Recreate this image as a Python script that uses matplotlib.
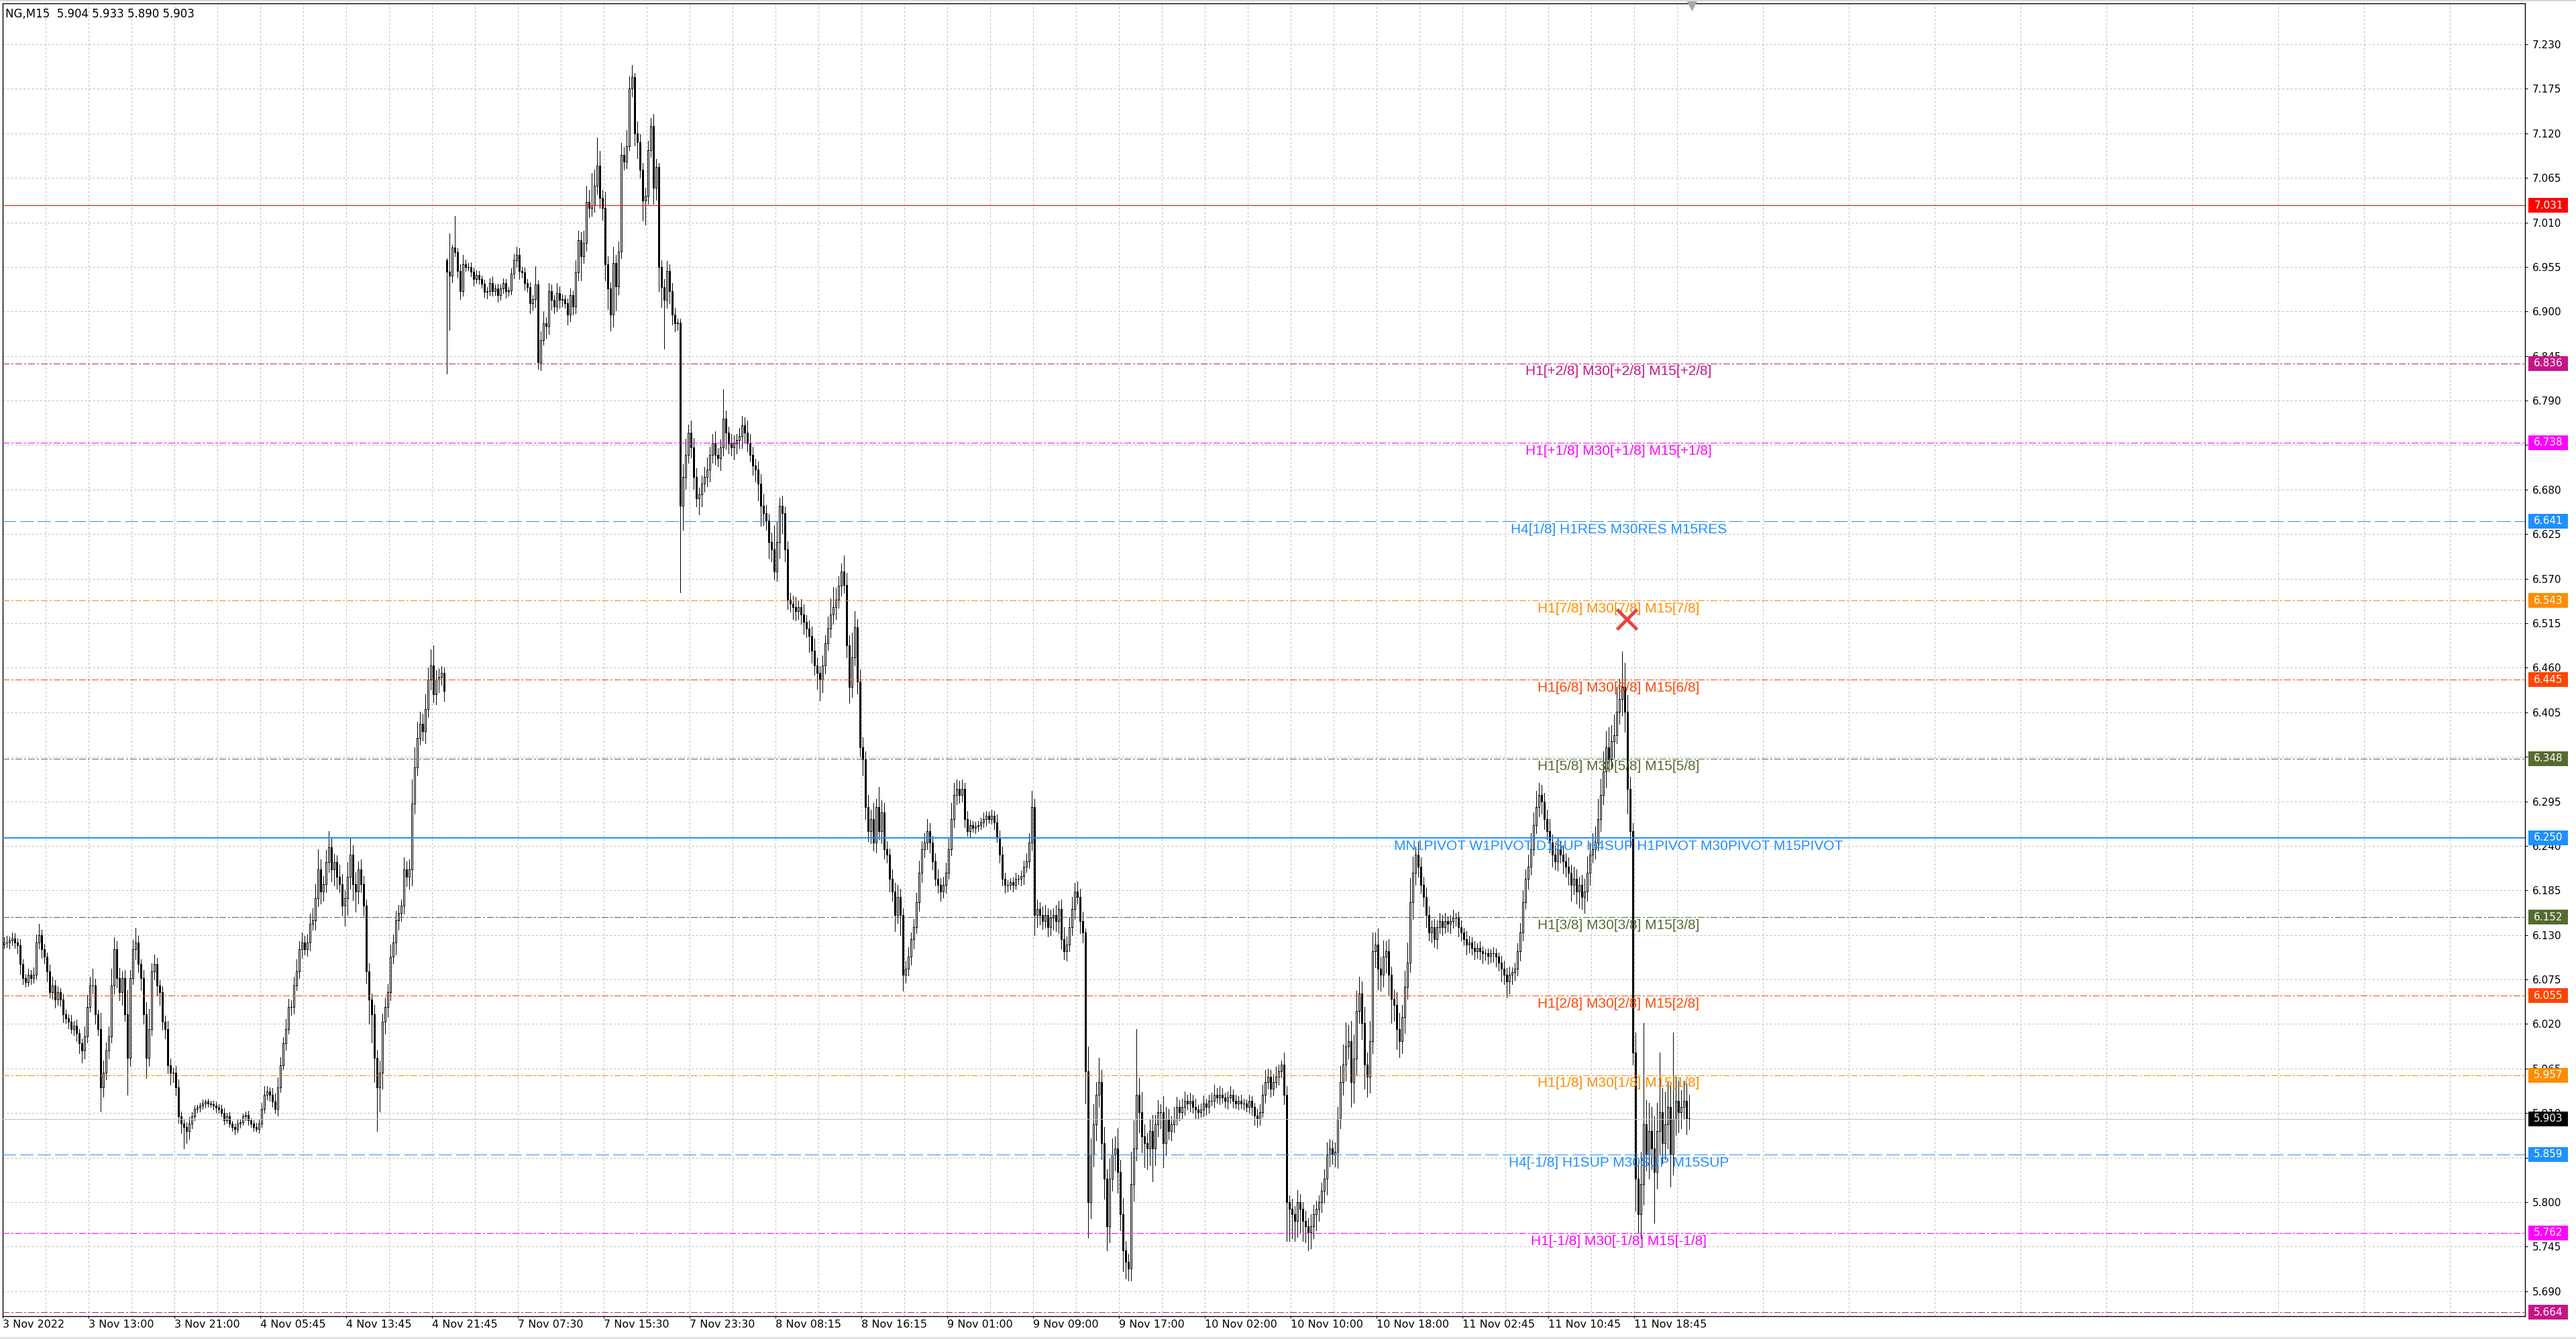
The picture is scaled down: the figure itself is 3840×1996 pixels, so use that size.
import numpy as np
import matplotlib.pyplot as plt
from matplotlib.patches import Rectangle
from matplotlib.transforms import blended_transform_factory

# ---- data (NG, M15) ----
symbol = "NG,M15"

# closes, one per M15 bar
close_nov3_4 = [
    6.121, 6.121, 6.123, 6.126, 6.121, 6.117, 6.094, 6.077, 6.072, 6.081,
    6.077, 6.081, 6.121, 6.130, 6.112, 6.103, 6.085, 6.059, 6.068, 6.050,
    6.059, 6.050, 6.032, 6.027, 6.023, 6.014, 6.018, 6.009, 5.996, 5.987,
    6.005, 6.041, 6.068, 6.068, 6.032, 6.014, 5.942, 5.960, 5.987, 6.005,
    6.068, 6.112, 6.077, 6.059, 6.077, 6.032, 5.978, 6.077, 6.112, 6.121,
    6.094, 6.077, 6.032, 5.978, 6.014, 6.085, 6.094, 6.068, 6.059, 6.023,
    6.014, 5.969, 5.960, 5.960, 5.942, 5.906, 5.897, 5.893, 5.888, 5.897,
    5.906, 5.915, 5.917, 5.919, 5.922, 5.924, 5.922, 5.921, 5.919, 5.917,
    5.915, 5.910, 5.901, 5.906, 5.897, 5.893, 5.890, 5.897, 5.899, 5.906,
    5.908, 5.901, 5.897, 5.893, 5.890, 5.897, 5.915, 5.933, 5.937, 5.933,
    5.924, 5.915, 5.942, 5.969, 5.996, 6.014, 6.041, 6.041, 6.068, 6.085,
    6.112, 6.121, 6.112, 6.121, 6.144, 6.148, 6.175, 6.211, 6.184, 6.193,
    6.220, 6.238, 6.211, 6.220, 6.202, 6.193, 6.166, 6.175, 6.202, 6.229,
    6.193, 6.184, 6.211, 6.193, 6.166, 6.085, 6.050, 6.032, 5.978, 5.942,
    5.960, 6.023, 6.041, 6.059, 6.103, 6.121, 6.148, 6.157, 6.166, 6.211,
    6.202, 6.211, 6.292, 6.337, 6.373, 6.391, 6.382, 6.409, 6.445, 6.463,
    6.427, 6.445, 6.449, 6.454, 6.431,
]
close_nov7 = [
    6.949, 6.944, 6.979, 6.973, 6.950, 6.925, 6.958, 6.955, 6.955, 6.949,
    6.940, 6.945, 6.940, 6.934, 6.924, 6.925, 6.935, 6.925, 6.928, 6.920,
    6.928, 6.935, 6.925, 6.926, 6.947, 6.963, 6.970, 6.950, 6.948, 6.935,
    6.930, 6.910, 6.915, 6.933, 6.837, 6.865, 6.885, 6.882, 6.925, 6.914,
    6.906, 6.923, 6.914, 6.915, 6.910, 6.896, 6.920, 6.906, 6.948, 6.988,
    6.968, 6.985, 7.035, 7.028, 7.031, 7.055, 7.080, 7.040, 7.028, 6.958,
    6.928, 6.896, 6.960, 6.931, 6.974, 7.093, 7.085, 7.104, 7.175, 7.189,
    7.120, 7.109, 7.075, 7.037, 7.043, 7.099, 7.129, 7.053, 7.078, 6.955,
    6.930, 6.914, 6.950, 6.925, 6.896, 6.885, 6.886, 6.660,
]
close_nov7_8 = [
    6.696, 6.723, 6.750, 6.732, 6.696, 6.669, 6.674, 6.687, 6.696, 6.705,
    6.723, 6.737, 6.723, 6.719, 6.732, 6.768, 6.750, 6.737, 6.732, 6.737,
    6.741, 6.746, 6.759, 6.750, 6.737, 6.723, 6.710, 6.705, 6.687, 6.660,
    6.651, 6.642, 6.615, 6.606, 6.579, 6.615, 6.660, 6.651, 6.606, 6.544,
    6.539, 6.535, 6.530, 6.535, 6.526, 6.517, 6.508, 6.499, 6.481, 6.463,
    6.454, 6.445, 6.463, 6.490, 6.508, 6.526, 6.535, 6.544, 6.561, 6.579,
]
close_nov8_11 = [
    6.562, 6.488, 6.436, 6.473, 6.510, 6.443, 6.362, 6.347, 6.288, 6.258,
    6.273, 6.244, 6.288, 6.258, 6.281, 6.236, 6.229, 6.199, 6.184, 6.155,
    6.177, 6.155, 6.081, 6.088, 6.103, 6.125, 6.140, 6.170, 6.207, 6.236,
    6.244, 6.258, 6.244, 6.221, 6.199, 6.192, 6.184, 6.192, 6.207, 6.236,
    6.273, 6.303, 6.310, 6.303, 6.310, 6.273, 6.258, 6.266, 6.262, 6.264,
    6.266, 6.269, 6.273, 6.277, 6.273, 6.277, 6.269, 6.251, 6.229, 6.199,
    6.192, 6.192, 6.195, 6.192, 6.199, 6.199, 6.203, 6.214, 6.221, 6.244,
    6.288, 6.155, 6.162, 6.155, 6.147, 6.155, 6.140, 6.151, 6.155, 6.147,
    6.162, 6.125, 6.110, 6.118, 6.140, 6.162, 6.184, 6.177, 6.147, 6.133,
    5.962, 5.800, 5.859, 5.896, 5.933, 5.948, 5.873, 5.829, 5.770, 5.829,
    5.859, 5.866, 5.837, 5.785, 5.740, 5.726, 5.718, 5.822, 5.866, 5.933,
    5.911, 5.881, 5.873, 5.866, 5.888, 5.866, 5.896, 5.911, 5.911, 5.873,
    5.903, 5.888, 5.896, 5.903, 5.918, 5.911, 5.918, 5.925, 5.922, 5.925,
    5.918, 5.914, 5.911, 5.914, 5.922, 5.918, 5.925, 5.925, 5.933, 5.929,
    5.933, 5.929, 5.925, 5.929, 5.933, 5.925, 5.922, 5.925, 5.922, 5.922,
    5.918, 5.925, 5.918, 5.907, 5.903, 5.911, 5.933, 5.948, 5.955, 5.940,
    5.948, 5.955, 5.962, 5.970, 5.933, 5.800, 5.792, 5.785, 5.777, 5.800,
    5.792, 5.777, 5.770, 5.763, 5.770, 5.785, 5.792, 5.800, 5.814, 5.829,
    5.859, 5.866, 5.859, 5.862, 5.903, 5.948, 5.970, 5.992, 5.999, 5.948,
    5.977, 6.036, 6.058, 6.021, 5.970, 5.955, 5.999, 6.110, 6.118, 6.088,
    6.081, 6.103, 6.110, 6.081, 6.051, 6.044, 6.014, 5.999, 6.029, 6.066,
    6.096, 6.170, 6.207, 6.229, 6.214, 6.192, 6.177, 6.155, 6.133, 6.140,
    6.125, 6.140, 6.147, 6.140, 6.147, 6.144, 6.147, 6.151, 6.151, 6.140,
    6.133, 6.125, 6.118, 6.121, 6.114, 6.110, 6.114, 6.110, 6.107, 6.107,
    6.104, 6.107, 6.107, 6.103, 6.096, 6.088, 6.081, 6.073, 6.081, 6.084,
    6.088, 6.110, 6.133, 6.170, 6.199, 6.214, 6.236, 6.266, 6.288, 6.303,
    6.295, 6.273, 6.258, 6.244, 6.229, 6.221, 6.236, 6.229, 6.221, 6.214,
    6.207, 6.192, 6.199, 6.184, 6.192, 6.177, 6.184, 6.207, 6.229, 6.236,
    6.244, 6.273, 6.303, 6.332, 6.362, 6.347, 6.369, 6.377, 6.406, 6.421,
    6.436, 6.406, 6.310, 6.258, 5.985, 5.829, 5.785, 5.822, 5.896, 5.859,
    5.888, 5.866, 5.837, 5.888, 5.911, 5.873, 5.896, 5.918, 5.859, 5.903,
    5.925, 5.911, 5.918, 5.925, 5.904, 5.903,
]

# wick lengths beyond the body, in ticks of 0.001
wick_up_nov3_4 = [
    6, 8, 5, 7, 6, 5, 8, 6, 5, 7,  6, 9, 10, 14, 6, 7, 5, 8, 10, 6,
    8, 5, 7, 6, 5, 8, 6, 7, 5, 6,  12, 15, 10, 20, 8, 6, 20, 15, 10, 12,
    20, 15, 10, 12, 8, 10, 30, 10, 12, 18,  8, 6, 10, 15, 25, 10, 12, 8, 6, 8,
    7, 10, 8, 6, 8, 10, 6, 5, 6, 8,  5, 4, 3, 4, 5, 3, 4, 3, 4, 5,
    4, 5, 6, 4, 5, 3, 4, 5, 4, 3,  4, 5, 3, 4, 5, 6, 8, 10, 6, 5,
    8, 10, 12, 10, 8, 12, 10, 8, 10, 15,  10, 12, 8, 10, 12, 15, 18, 25, 12, 10,
    15, 20, 12, 10, 8, 15, 12, 10, 18, 20,  12, 15, 10, 12, 10, 8, 10, 8, 12, 10,
    15, 10, 12, 10, 15, 10, 12, 10, 8, 15,  10, 12, 30, 25, 20, 15, 12, 18, 15, 20,
    25, 12, 10, 8, 6,
]
wick_dn_nov3_4 = [
    5, 6, 8, 6, 7, 10, 12, 8, 6, 5,  8, 6, 5, 8, 10, 8, 12, 6, 8, 10,
    6, 8, 10, 6, 8, 5, 8, 10, 12, 15,  10, 8, 6, 10, 12, 8, 30, 12, 8, 10,
    8, 10, 12, 10, 15, 8, 45, 10, 8, 12,  10, 15, 12, 25, 10, 8, 10, 12, 15, 10,
    12, 10, 15, 12, 10, 8, 12, 27, 15, 10,  6, 5, 4, 5, 4, 5, 4, 3, 5, 6,
    5, 4, 5, 3, 4, 5, 6, 4, 5, 4,  5, 6, 4, 5, 3, 5, 4, 5, 6, 8,
    6, 5, 8, 6, 5, 8, 6, 10, 8, 6,  8, 10, 6, 8, 10, 8, 12, 10, 15, 12,
    10, 12, 15, 20, 15, 10, 12, 25, 20, 15,  20, 25, 15, 10, 12, 15, 30, 35, 30, 54,
    30, 20, 15, 12, 10, 8, 15, 12, 10, 10,  12, 15, 20, 12, 10, 8, 12, 15, 10, 12,
    10, 12, 15, 10, 12,
]
wick_up_nov7 = [
    3, 47, 3, 39, 5, 8, 12, 6, 5, 6,  5, 6, 5, 4, 5, 5, 6, 8, 5, 6,
    5, 6, 5, 4, 6, 8, 10, 8, 5, 6,  5, 6, 5, 23, 5, 10, 15, 8, 10, 8,
    6, 12, 8, 6, 5, 6, 8, 6, 15, 12,  10, 15, 20, 15, 40, 20, 35, 18, 10, 20,
    10, 8, 20, 10, 12, 15, 10, 20, 15, 15,  5, 15, 10, 8, 10, 12, 10, 15, 10, 5,
    8, 10, 12, 8, 10, 8, 5, 5,
]
wick_dn_nov7 = [
    126, 67, 8, 5, 8, 10, 6, 5, 4, 6,  8, 5, 6, 5, 6, 8, 5, 6, 5, 8,
    6, 5, 8, 6, 5, 6, 8, 10, 6, 8,  6, 12, 8, 10, 8, 10, 6, 15, 10, 12,
    8, 6, 10, 8, 6, 12, 8, 10, 8, 10,  30, 8, 10, 12, 10, 8, 10, 12, 15, 20,
    25, 20, 15, 30, 10, 8, 10, 8, 5, 10,  15, 20, 10, 25, 30, 10, 8, 20, 15, 30,
    25, 60, 10, 15, 12, 10, 8, 107,
]
wick_up_nov7_8 = [
    15, 20, 10, 15, 12, 10, 8, 10, 12, 15,  10, 12, 15, 8, 10, 36, 10, 8, 12, 10,
    8, 10, 12, 10, 15, 12, 10, 8, 10, 12,  15, 10, 8, 12, 30, 25, 10, 12, 8, 10,
    8, 10, 12, 8, 10, 12, 8, 10, 12, 15,  10, 8, 12, 10, 15, 20, 25, 15, 12, 10,
]
wick_dn_nov7_8 = [
    30, 15, 10, 12, 15, 10, 20, 15, 10, 12,  15, 10, 12, 10, 15, 10, 20, 12, 10, 15,
    12, 10, 15, 12, 10, 8, 12, 15, 20, 25,  15, 12, 20, 15, 10, 12, 20, 25, 15, 12,
    10, 15, 12, 10, 12, 15, 10, 20, 15, 12,  20, 25, 15, 10, 8, 10, 12, 15, 10, 12,
]
wick_up_nov8_11 = [
    20, 15, 12, 30, 20, 10, 15, 12, 10, 15,  12, 20, 10, 25, 15, 12, 10, 8, 12, 10,
    15, 10, 8, 10, 12, 8, 10, 12, 15, 10,  12, 15, 10, 8, 10, 12, 8, 10, 12, 15,
    20, 15, 12, 10, 12, 8, 10, 6, 5, 6,  5, 6, 8, 6, 5, 8, 6, 10, 8, 10,
    8, 6, 5, 6, 8, 5, 6, 8, 10, 12,  20, 10, 12, 8, 10, 12, 8, 10, 8, 12,
    10, 12, 15, 10, 12, 15, 10, 12, 10, 12,  5, 30, 20, 25, 15, 30, 15, 20, 12, 25,
    20, 15, 25, 15, 20, 12, 10, 40, 35, 81,  20, 25, 15, 12, 15, 20, 12, 15, 10, 20,
    15, 12, 10, 15, 12, 8, 10, 12, 8, 10,  8, 10, 6, 8, 10, 6, 8, 10, 12, 8,
    10, 8, 6, 8, 10, 6, 8, 6, 8, 6,  5, 8, 6, 5, 8, 10, 12, 15, 10, 8,
    10, 12, 8, 5, 15, 10, 8, 12, 10, 15,  10, 8, 12, 10, 15, 12, 10, 8, 10, 12,
    15, 12, 10, 12, 15, 20, 25, 30, 20, 25,  30, 25, 20, 15, 20, 15, 25, 23, 15, 20,
    15, 20, 12, 15, 10, 12, 15, 20, 15, 20,  25, 30, 20, 10, 15, 12, 10, 12, 10, 8,
    10, 8, 10, 8, 10, 6, 8, 10, 6, 8,  8, 6, 10, 8, 6, 8, 6, 8, 6, 5,
    6, 5, 8, 6, 5, 8, 10, 8, 10, 6,  8, 10, 12, 15, 12, 15, 20, 15, 20, 15,
    12, 10, 12, 15, 10, 12, 15, 10, 12, 10,  12, 10, 15, 12, 10, 12, 15, 20, 15, 20,
    20, 25, 20, 25, 20, 25, 20, 25, 30, 25,  44, 30, 20, 15, 10, 25, 20, 40, 125, 30,
    35, 30, 40, 35, 74, 30, 40, 30, 30, 107,  30, 25, 20, 25, 22, 29,
]
wick_dn_nov8_11 = [
    10, 15, 20, 12, 10, 15, 12, 20, 15, 12,  15, 10, 12, 10, 15, 12, 10, 15, 12, 20,
    10, 25, 20, 10, 8, 10, 12, 8, 10, 12,  10, 8, 12, 10, 8, 10, 12, 8, 10, 8,
    8, 10, 12, 10, 8, 10, 6, 8, 5, 6,  6, 5, 6, 8, 5, 6, 8, 6, 10, 8,
    10, 8, 6, 8, 5, 6, 8, 10, 6, 8,  10, 25, 15, 12, 10, 8, 12, 10, 15, 12,
    15, 12, 10, 12, 8, 10, 12, 8, 15, 12,  40, 44, 20, 15, 20, 15, 20, 25, 30, 20,
    15, 20, 25, 20, 25, 20, 15, 15, 20, 15,  25, 20, 30, 25, 20, 40, 20, 15, 20, 30,
    15, 10, 12, 10, 8, 10, 8, 10, 8, 10,  8, 10, 8, 6, 8, 10, 8, 6, 8, 6,
    8, 6, 8, 10, 6, 8, 6, 8, 6, 8,  6, 8, 10, 12, 10, 8, 6, 10, 8, 10,
    8, 6, 10, 8, 12, 48, 40, 30, 25, 20,  30, 25, 20, 23, 20, 15, 20, 15, 12, 15,
    20, 15, 12, 15, 20, 12, 15, 20, 15, 30,  25, 20, 15, 20, 30, 25, 20, 15, 20, 25,
    20, 15, 20, 25, 30, 20, 25, 20, 15, 20,  15, 12, 20, 15, 12, 10, 12, 15, 10, 12,
    10, 12, 8, 10, 8, 10, 12, 8, 10, 12,  10, 8, 12, 10, 8, 10, 8, 10, 12, 8,
    10, 8, 10, 12, 10, 15, 12, 20, 15, 12,  10, 8, 12, 10, 8, 12, 10, 8, 10, 12,
    15, 12, 10, 12, 15, 10, 12, 10, 15, 12,  15, 20, 12, 15, 20, 15, 20, 12, 15, 10,
    12, 10, 15, 12, 20, 15, 12, 20, 10, 15,  20, 25, 30, 20, 15, 40, 22, 30, 25, 20,
    30, 25, 63, 20, 30, 25, 20, 30, 40, 25,  20, 25, 20, 15, 20, 13,
]

first_open = 6.118
gap_open = {165: 6.963}   # Monday open after the weekend gap

# time axis labels, one every 32 bars
time_labels = ["3 Nov 2022", "3 Nov 13:00", "3 Nov 21:00", "4 Nov 05:45", "4 Nov 13:45",
               "4 Nov 21:45", "7 Nov 07:30", "7 Nov 15:30", "7 Nov 23:30", "8 Nov 08:15",
               "8 Nov 16:15", "9 Nov 01:00", "9 Nov 09:00", "9 Nov 17:00", "10 Nov 02:00",
               "10 Nov 10:00", "10 Nov 18:00", "11 Nov 02:45", "11 Nov 10:45", "11 Nov 18:45"]

# horizontal levels
level_prices = [7.031, 6.836, 6.738, 6.641, 6.543, 6.445, 6.348, 6.250,
                6.152, 6.055, 5.957, 5.859, 5.762, 5.664]
level_texts = ["",
               "H1[+2/8] M30[+2/8] M15[+2/8]",
               "H1[+1/8] M30[+1/8] M15[+1/8]",
               "H4[1/8] H1RES M30RES M15RES",
               "H1[7/8] M30[7/8] M15[7/8]",
               "H1[6/8] M30[6/8] M15[6/8]",
               "H1[5/8] M30[5/8] M15[5/8]",
               "MN1PIVOT W1PIVOT D1SUP H4SUP H1PIVOT M30PIVOT M15PIVOT",
               "H1[3/8] M30[3/8] M15[3/8]",
               "H1[2/8] M30[2/8] M15[2/8]",
               "H1[1/8] M30[1/8] M15[1/8]",
               "H4[-1/8] H1SUP M30SUP M15SUP",
               "H1[-1/8] M30[-1/8] M15[-1/8]",
               ""]
level_colors = ["#FF0000", "#C71585", "#FF00FF", "#1E90FF", "#FF8C00", "#FF4500", "#556B2F",
                "#1E90FF", "#556B2F", "#FF4500", "#FF8C00", "#1E90FF", "#FF00FF", "#C71585"]
DD = (0, (7, 2.5, 1.5, 2.5))
DA = (0, (14, 5))
level_styles = ["-", DD, DD, DA, DD, DD, DD, "-", DD, DD, DD, DA, DD, DD]
level_widths = [0.7, 0.7, 0.7, 0.7, 0.7, 0.7, 0.7, 1.3, 0.7, 0.7, 0.7, 0.7, 0.7, 0.7]

cross_bar, cross_price = 604.75, 6.520   # red X object
shift_bar = 629                           # chart shift marker
label_bar = 601.75                        # level texts centred here

# ---- build candles ----
close = np.array(close_nov3_4 + close_nov7 + close_nov7_8 + close_nov8_11)
wu = np.array(wick_up_nov3_4 + wick_up_nov7 + wick_up_nov7_8 + wick_up_nov8_11) / 1000
wd = np.array(wick_dn_nov3_4 + wick_dn_nov7 + wick_dn_nov7_8 + wick_dn_nov8_11) / 1000
opn = np.concatenate([[first_open], close[:-1]])
for k, v in gap_open.items():
    opn[k] = v
high = np.maximum(opn, close) + wu
low = np.minimum(opn, close) - wd
x = np.arange(len(close))
last_price = close[-1]

plt.rcParams['lines.scale_dashes'] = False
plt.rcParams['font.family'] = 'DejaVu Sans'

fig = plt.figure(figsize=(38.4, 19.96), dpi=100)
ax = fig.add_axes([4 / 3840, 34 / 1996, 3760 / 3840, 1957 / 1996])
ax.set_xlim(-0.5, 939.5)
ax.set_ylim(5.6592, 7.2805)

# grid
yt = np.round(np.arange(5.690, 7.2301, 0.055), 3)
ax.set_yticks(yt)
ax.set_yticklabels([f"{v:.3f}" for v in yt])
ax.set_xticks(np.arange(len(time_labels)) * 32 - 0.5)
ax.set_xticklabels(time_labels, ha='left')
ax.set_xticks(np.arange(16, 940, 32) - 0.5, minor=True)
ax.grid(True, which='major', color='#C0C0C0', linestyle=(0, (2.2, 2.2)), linewidth=0.75)
ax.xaxis.grid(True, which='minor', color='#C0C0C0', linestyle=(0, (2.2, 2.2)), linewidth=0.75)
ax.yaxis.tick_right()
ax.tick_params(axis='y', which='major', length=3, width=0.75, pad=5, labelsize=11, colors='black')
ax.tick_params(axis='x', which='major', length=2.5, width=0.75, pad=1, labelsize=11.5)
ax.tick_params(axis='x', which='minor', length=0)
for sp in ax.spines.values():
    sp.set_linewidth(1.0)
    sp.set_color('black')

# candles
ax.vlines(x, low, high, color='black', linewidth=0.7, zorder=3, antialiased=False)
bull = close >= opn
bear = ~bull
ax.bar(x[bull], (close - opn)[bull], bottom=opn[bull], width=0.6, facecolor='white',
       edgecolor='black', linewidth=0.7, zorder=4, antialiased=False)
ax.bar(x[bear], (close - opn)[bear], bottom=opn[bear], width=0.6, facecolor='black',
       edgecolor='black', linewidth=0.7, zorder=4, antialiased=False)

# levels and their texts
mixed = blended_transform_factory(ax.transAxes, ax.transData)
box_h = 22 / 1207
for p, t, c, ls, lw in zip(level_prices, level_texts, level_colors, level_styles, level_widths):
    ax.axhline(p, color=c, linestyle=ls, linewidth=lw, zorder=5, antialiased=False)
    if t:
        ax.annotate(t, xy=(label_bar, p), xytext=(0, -2), textcoords='offset points',
                    ha='center', va='top', color=c, fontsize=15, family='Liberation Sans',
                    zorder=6, annotation_clip=False, clip_on=True)

ax.axhline(last_price, color='#C0C0C0', linewidth=0.7, zorder=5, antialiased=False)

# price boxes on the right scale
for p, c in zip(level_prices + [last_price], level_colors + ['black']):
    ax.add_patch(Rectangle((1.00133, p - box_h / 2), 0.01582, box_h, transform=mixed,
                           facecolor=c, edgecolor='none', clip_on=False, zorder=7))
    ax.text(1.00931, p, f"{p:.3f}", transform=mixed, ha='center', va='center',
            color='white', fontsize=11, clip_on=False, zorder=8)

# red cross object and chart-shift marker
ax.plot(cross_bar, cross_price, marker='x', color='#E8433C', markersize=22,
        markeredgewidth=3.5, zorder=9)
ax.plot(shift_bar, 1.0, marker='v', color='#A8A8A8', markersize=14,
        transform=blended_transform_factory(ax.transData, ax.transAxes), clip_on=False, zorder=9)

# header
hdr = f"{symbol}  {opn[-1]:.3f} {high[-1]:.3f} {low[-1]:.3f} {close[-1]:.3f}"
ax.text(0.0011, 0.9962, hdr, transform=ax.transAxes, ha='left', va='top',
        fontsize=12, color='black', zorder=9)

# window frame bands
fig.add_artist(Rectangle((0, 0), 1, 3 / 1996, transform=fig.transFigure,
                         facecolor='#E3E3E3', edgecolor='none'))
fig.add_artist(Rectangle((0, 1 - 2 / 1996), 1, 2 / 1996, transform=fig.transFigure,
                         facecolor='#D8D8D8', edgecolor='none'))

fig.savefig('out.png', dpi=100)
